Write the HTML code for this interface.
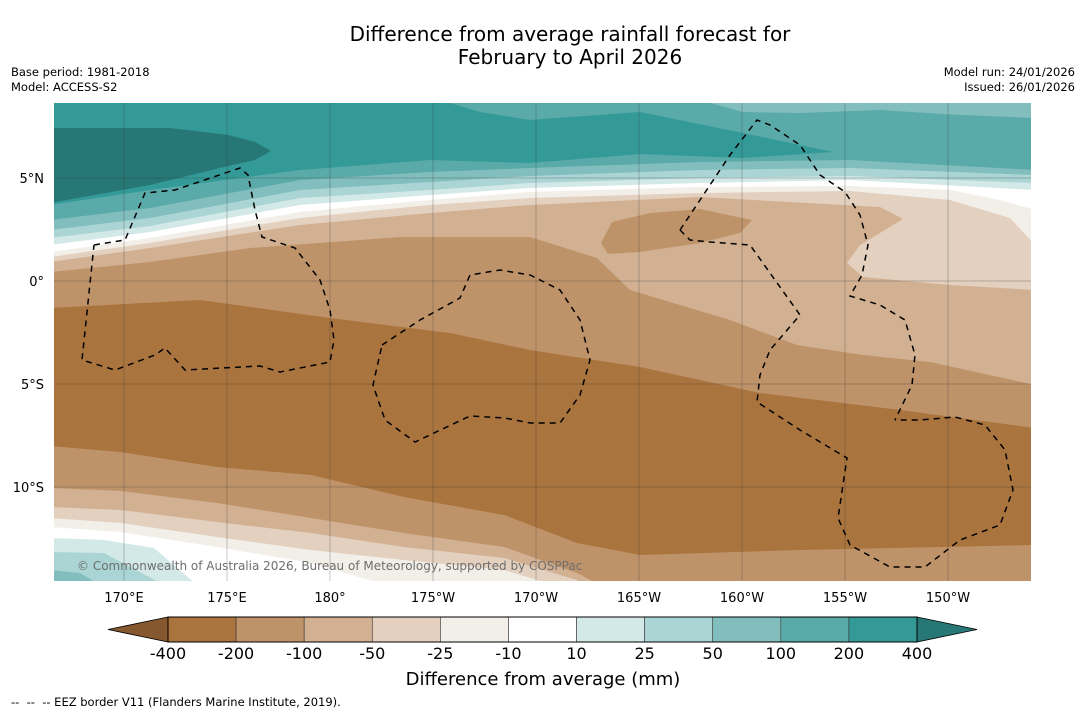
<!DOCTYPE html>
<html><head><meta charset="utf-8">
<style>
html,body{margin:0;padding:0;background:#fff;}
svg{display:block;font-family:"DejaVu Sans","Liberation Sans",sans-serif;}
</style></head>
<body>
<svg id="chart" width="1085" height="713" viewBox="0 0 1085 713" xmlns="http://www.w3.org/2000/svg">
<text x="570" y="41" text-anchor="middle" font-size="20" fill="#000">Difference from average rainfall forecast for</text>
<text x="570" y="64" text-anchor="middle" font-size="20" fill="#000">February to April 2026</text>
<text x="11" y="76" font-size="11.5">Base period: 1981-2018</text>
<text x="11" y="91" font-size="11.5">Model: ACCESS-S2</text>
<text x="1075" y="76" font-size="11.5" text-anchor="end">Model run: 24/01/2026</text>
<text x="1075" y="91" font-size="11.5" text-anchor="end">Issued: 26/01/2026</text>
<defs><clipPath id="mapclip"><rect x="54" y="103" width="977" height="478"/></clipPath></defs>
<g id="map" clip-path="url(#mapclip)"></g>
<g id="grid"></g>
<g id="eez"></g>
<text x="77" y="570" font-size="12" fill="#6e6e6e">© Commonwealth of Australia 2026, Bureau of Meteorology, supported by COSPPac</text>
<g id="xticks"></g>
<g id="yticks"></g>
<g id="cbar"></g>
<text x="543" y="685" text-anchor="middle" font-size="18">Difference from average (mm)</text>
<text x="11" y="706" font-size="11.5">--&#160;&#160;--&#160;&#160;-- EEZ border V11 (Flanders Marine Institute, 2019).</text>
</svg>
<script>
// colorbar data
const cbLevels = ["-400","-200","-100","-50","-25","-10","10","25","50","100","200","400"];
const cbColors = ["#aa743f","#bf9369","#d2b192","#e3d0bf","#f2eee8","#ffffff","#d3e9e7","#aad5d4","#82bebd","#5aaaa9","#339a97"];
const cbUnder = "#865830";
const cbOver = "#267776";
// axis ticks
const lonTicks = [170,175,180,-175,-170,-165,-160,-155,-150];
const lonLabels = ["170°E","175°E","180°","175°W","170°W","165°W","160°W","155°W","150°W"];
const latTicks = [5,0,-5,-10];
const latLabels = ["5°N","0°","5°S","10°S"];

const NS="http://www.w3.org/2000/svg";
function mk(tag,attrs,parent){const e=document.createElementNS(NS,tag);for(const k in attrs)e.setAttribute(k,attrs[k]);parent.appendChild(e);return e;}
function lonToX(lon){const l=lon<0?lon+360:lon;return 124+(l-170)*20.6;}
function latToY(lat){return 281-lat*20.6;}

const map=document.getElementById('map');
const C={d400:"#aa743f",d200:"#bf9369",d100:"#d2b192",d50:"#e3d0bf",d25:"#f2eee8",w:"#ffffff",p10:"#d3e9e7",p25:"#aad5d4",p50:"#82bebd",p100:"#5aaaa9",p200:"#339a97",p400:"#267776"};
function topPoly(pts,col,name){
  const all=[[54,100]].concat(pts).concat([[1035,100]]);
  const p=mk('polygon',{points:all.map(a=>a.join(',')).join(' '),fill:col},map);
  
  
}
function botPoly(pts,col,name){
  const all=[[50,585]].concat(pts).concat([[1035,585]]);
  const p=mk('polygon',{points:all.map(a=>a.join(',')).join(' '),fill:col},map);
  
  
}
function poly(pts,col,name){
  const p=mk('polygon',{points:pts.map(a=>a.join(',')).join(' '),fill:col},map);
  
  
}
const bg=mk('rect',{x:54,y:103,width:977,height:478,fill:C.d400},map);


topPoly([[50,308],[200,300],[330,318],[450,333],[530,350],[640,367],[760,393],[900,410],[1035,428]],C.d200,'band-minus100-north');
topPoly([[50,272],[150,262],[250,248],[400,237],[530,237],[597,258],[630,290],[730,320],[797,345],[863,355],[930,362],[1035,385]],C.d100,'band-minus50-north');
poly([[601,243],[612,222],[650,213],[700,209],[752,220],[740,233],[700,243],[640,252],[608,254]],C.d200,'patch-minus100');
topPoly([[50,262],[150,248],[300,225],[430,213],[530,205],[700,197],[880,207],[903,219],[860,245],[847,263],[863,277],[950,285],[1035,290]],C.d50,'band-minus25');
topPoly([[50,257],[150,243],[300,218],[430,205],[530,198],[700,193],[850,191],[950,200],[1010,218],[1035,245]],C.d25,'band-minus10');
topPoly([[50,252],[150,238],[300,212],[430,200],[530,192],[700,187],[850,186],[950,190],[1000,200],[1035,210]],C.w,'band-white');
topPoly([[50,245],[150,232],[300,205],[430,195],[530,188],[700,183],[850,180],[1035,190]],C.p10,'band-plus25');
topPoly([[50,238],[150,226],[300,198],[430,190],[530,183],[700,178],[850,176],[1035,183]],C.p25,'band-plus50');
topPoly([[50,230],[150,218],[300,190],[430,182],[530,176],[700,170],[850,168],[1035,175]],C.p50,'band-plus100');
topPoly([[50,220],[150,208],[300,180],[430,172],[530,168],[700,162],[850,160],[1035,170]],C.p100,'band-plus200');
poly([[50,100],[440,100],[480,112],[530,120],[640,112],[743,133],[833,152],[743,158],[640,154],[530,163],[430,160],[300,170],[150,190],[50,205]],C.p200,'band-plus400');
poly([[700,100],[1035,100],[1035,118],[960,115],[880,110],[800,113],[743,112]],C.p50,'patch-plus100-top');
poly([[50,128],[170,128],[228,135],[255,142],[271,151],[255,160],[228,166],[150,185],[50,203]],C.p400,'patch-over400');
botPoly([[50,446],[121,452],[217,467],[311,475],[404,497],[504,515],[577,543],[640,555],[800,550],[1035,545]],C.d200,'band-minus100-south');
botPoly([[50,488],[121,491],[217,503],[311,518],[404,533],[504,547],[577,573],[600,585]],C.d100,'band-minus50-south');
botPoly([[50,507],[121,510],[217,522],[311,533],[404,547],[504,558],[577,580],[580,585]],C.d50,'band-minus25-south');
botPoly([[50,518],[121,523],[217,537],[311,550],[404,560],[504,570],[554,585]],C.d25,'band-minus10-south');
botPoly([[50,527],[121,532],[217,547],[311,563],[387,585]],C.w,'band-white-south');
botPoly([[50,538],[104,540],[154,548],[197,585]],C.p10,'band-plus25-south');
botPoly([[50,552],[104,553],[164,585]],C.p25,'band-plus50-south');
botPoly([[50,570],[80,573],[100,585]],C.p50,'band-plus100-south');

const grid=document.getElementById('grid'),xt=document.getElementById('xticks'),yt=document.getElementById('yticks');
lonTicks.forEach((lon,i)=>{
  const x=lonToX(lon);
  const l=mk('line',{x1:x,y1:103,x2:x,y2:581,stroke:'#333','stroke-width':0.5,'stroke-opacity':0.55},grid);
  
  
  const t=mk('text',{x:x,y:602,'text-anchor':'middle','font-size':13},xt);t.textContent=lonLabels[i];
  
  
});
latTicks.forEach((lat,i)=>{
  const y=latToY(lat);
  const l=mk('line',{x1:54,y1:y,x2:1031,y2:y,stroke:'#333','stroke-width':0.5,'stroke-opacity':0.55},grid);
  
  
  const t=mk('text',{x:44,y:y+5,'text-anchor':'end','font-size':13},yt);t.textContent=latLabels[i];
  
  
});

const eez=document.getElementById('eez');
const eezPaths=[
 [[94,245],[125,240],[145,193],[175,190],[240,168],[248,175],[255,210],[262,237],[295,248],[320,280],[330,310],[334,340],[330,362],[280,372],[260,366],[185,370],[165,348],[155,355],[115,370],[82,360],[94,245]],
 [[382,345],[420,320],[460,298],[470,275],[500,270],[530,275],[560,290],[580,320],[590,360],[580,395],[560,423],[530,423],[505,418],[470,416],[415,442],[385,420],[373,385],[382,345]],
 [[680,230],[700,200],[730,155],[757,120],[770,125],[800,145],[820,175],[845,192],[860,215],[868,245],[862,275],[850,296],[880,305],[905,320],[915,355],[912,385],[895,420]],
 [[680,230],[690,240],[710,242],[750,245],[775,280],[800,315],[770,350],[760,375],[757,402],[800,430],[847,458],[838,518],[850,545],[890,567],[925,567],[960,540],[1000,525],[1013,490],[1005,450],[985,425],[955,417],[920,420],[895,420]]
];
eezPaths.forEach(pts=>{
  const p=mk('polyline',{points:pts.map(a=>a.join(',')).join(' '),fill:'none',stroke:'#000','stroke-width':1.5,'stroke-dasharray':'6,5'},eez);
  
  
});

const cb=document.getElementById('cbar');
const cbX0=168,cbX1=917,cbY=617,cbH=25,n=cbColors.length,w=(cbX1-cbX0)/n;
function cbX(i){return cbX0+i*w;}
const under=mk('polygon',{points:`${cbX0},${cbY} 108,${cbY+cbH/2} ${cbX0},${cbY+cbH}`,fill:cbUnder,stroke:'#000','stroke-width':0.8},cb);


const over=mk('polygon',{points:`${cbX1},${cbY} 977,${cbY+cbH/2} ${cbX1},${cbY+cbH}`,fill:cbOver,stroke:'#000','stroke-width':0.8},cb);


cbColors.forEach((c,i)=>{
  const r=mk('rect',{x:cbX(i),y:cbY,width:w,height:cbH,fill:c,stroke:'#333','stroke-width':0.6},cb);
  
  
});
mk('rect',{x:cbX0,y:cbY,width:cbX1-cbX0,height:cbH,fill:'none',stroke:'#000','stroke-width':1},cb);
cbLevels.forEach((lv,i)=>{
  const t=mk('text',{x:cbX(i),y:659,'text-anchor':'middle','font-size':16},cb);t.textContent=lv;
  
  
});
</script>
</body></html>
